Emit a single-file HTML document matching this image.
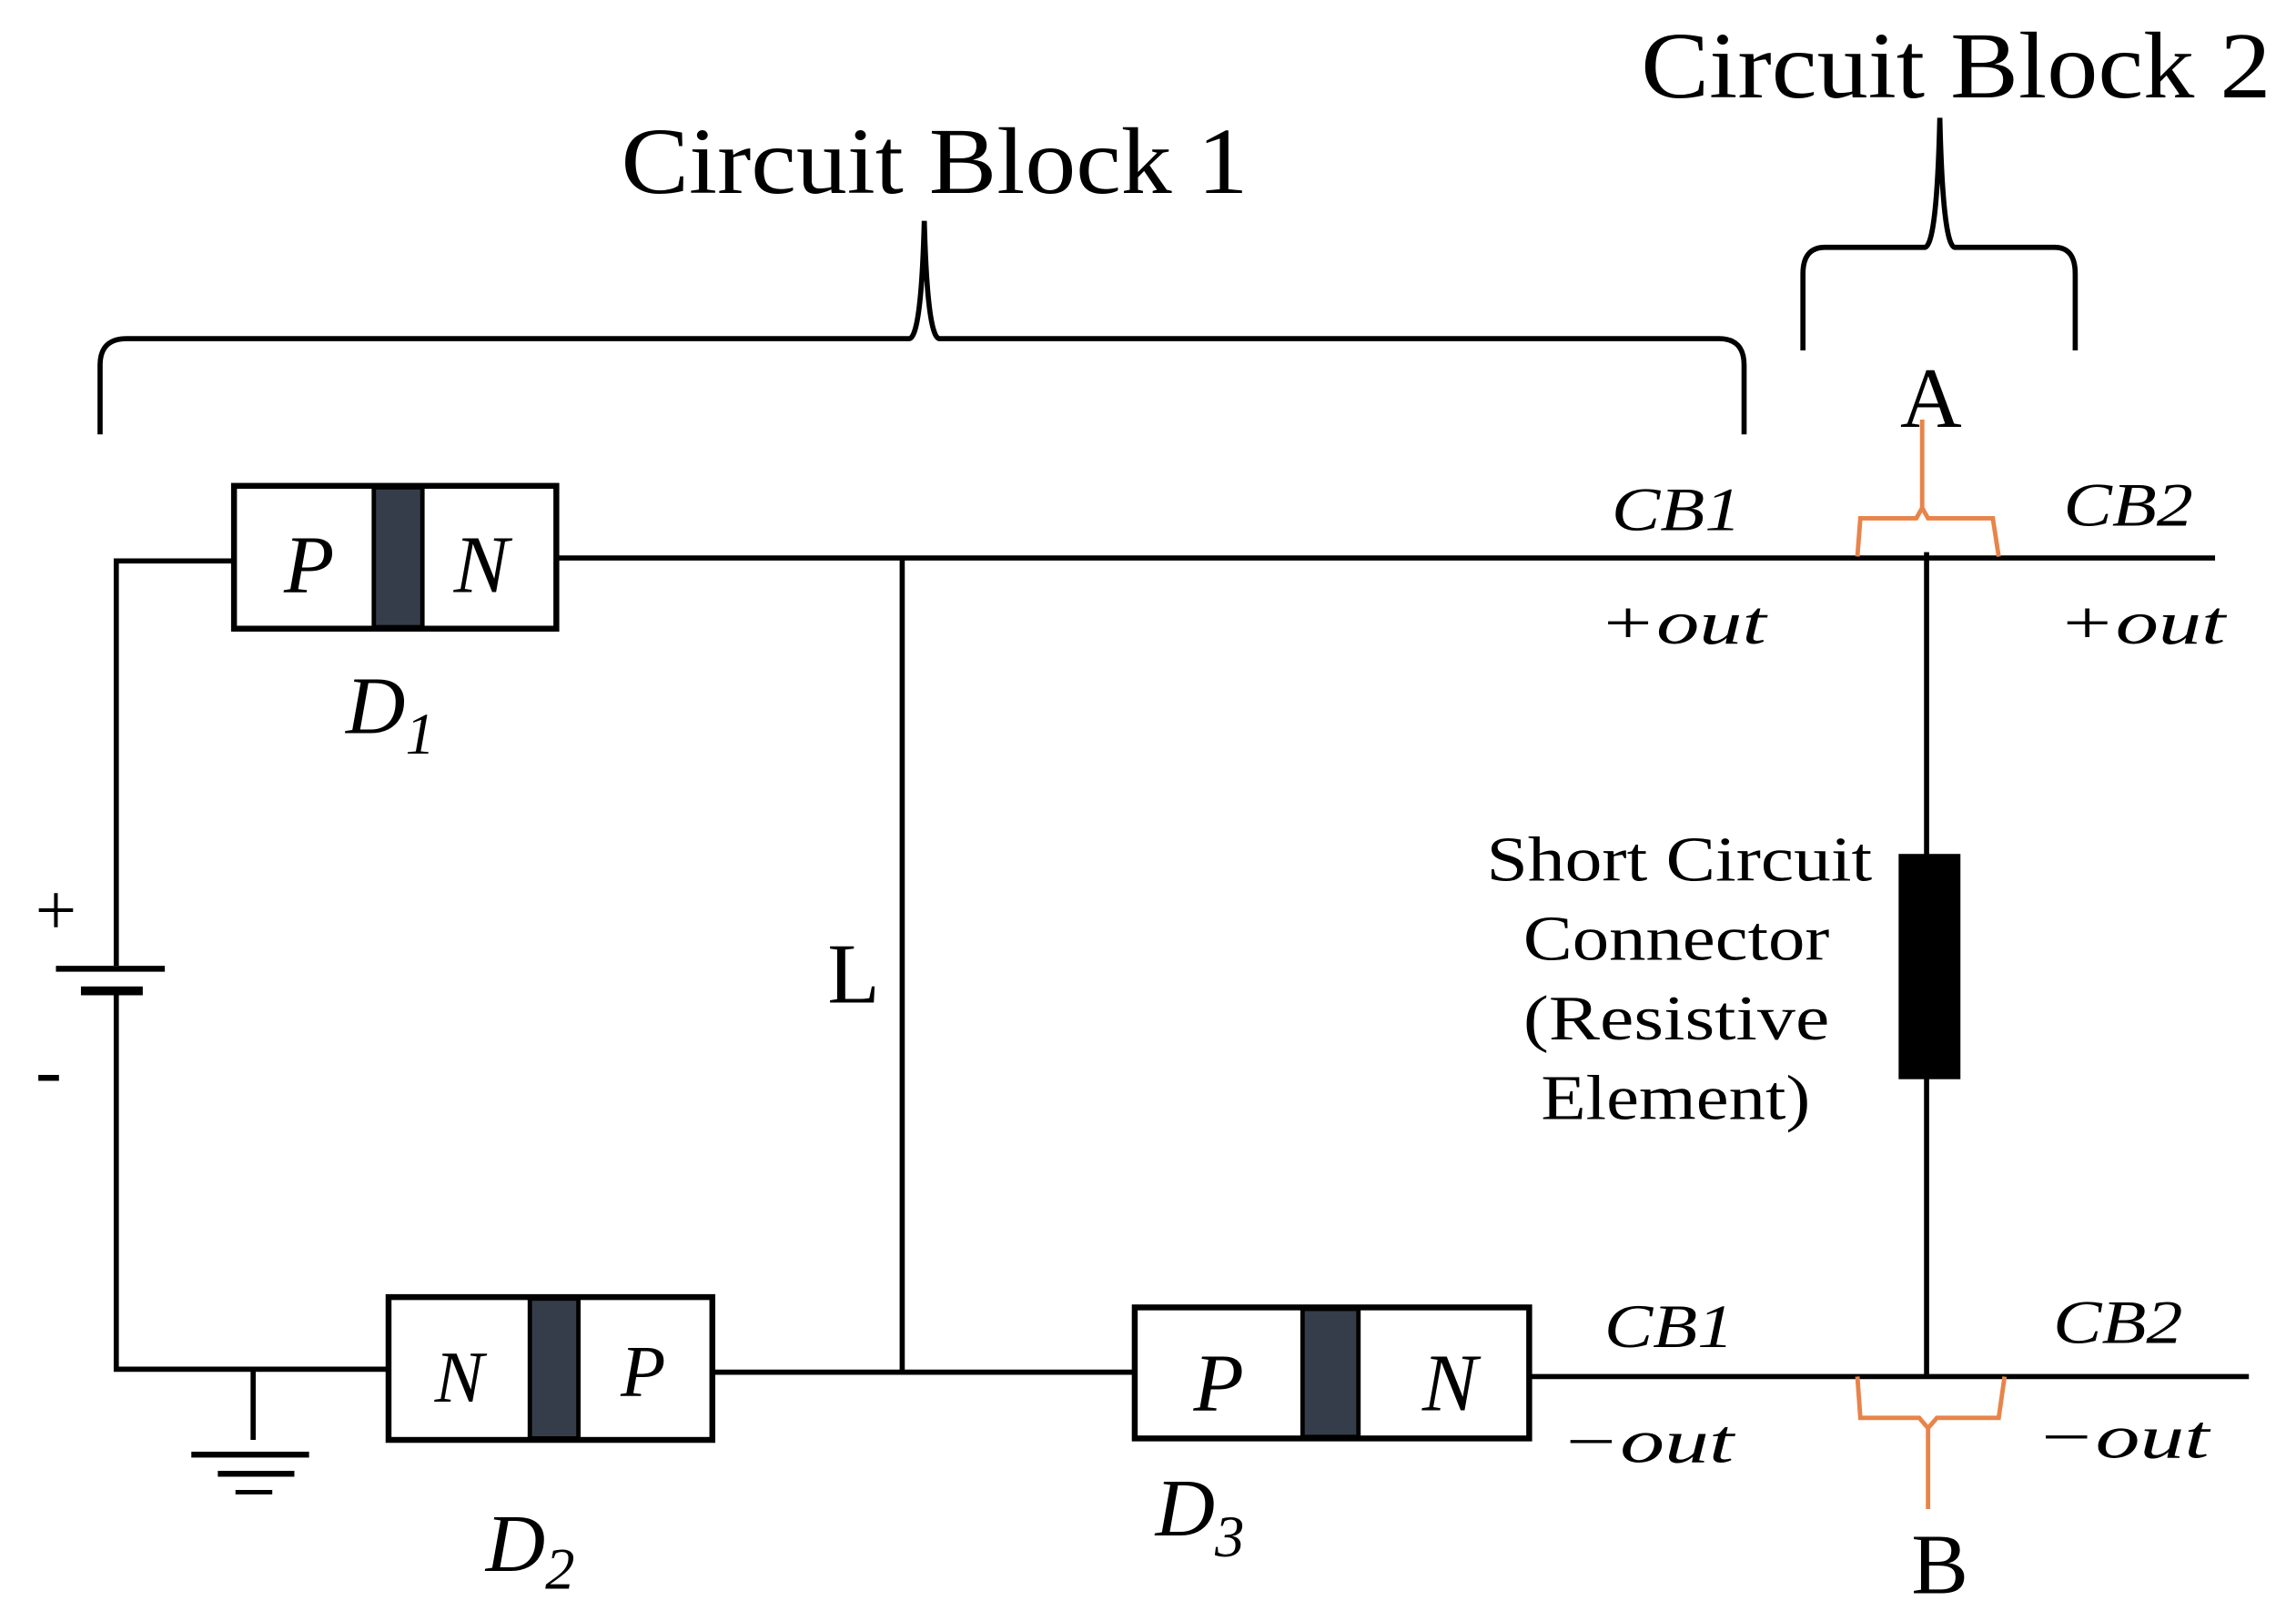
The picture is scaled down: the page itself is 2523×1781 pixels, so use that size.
<!DOCTYPE html>
<html><head><meta charset="utf-8"><style>html,body{margin:0;padding:0;background:#fff}svg{display:block}</style></head>
<body>
<svg width="2523" height="1781" viewBox="0 0 1560 1101" preserveAspectRatio="none" xmlns="http://www.w3.org/2000/svg" font-family="Liberation Serif, serif">
<g stroke="#000" stroke-width="3.5" fill="none">
<path d="M68 295 L68 248 Q68 230 86 230 L618 230 Q626 228 628 150 Q630 228 638 230 L1168 230 Q1185 230 1185 248 L1185 295"/>
<path d="M1225 238 L1225 186 Q1225 168 1240 168 L1308 168 Q1316 166 1318 80 Q1320 166 1328 168 L1396 168 Q1410 168 1410 186 L1410 238"/>
<path d="M158 381 L79 381 L79 656 M79 676 L79 930 L263 930"/>
<path d="M378 379 L1505 379"/>
<path d="M613 379 L613 932"/>
<path d="M484 932 L770 932"/>
<path d="M1040 935 L1528 935"/>
<path d="M1309 375 L1309 935"/>
<path d="M172 930 L172 978"/>
</g>
<rect x="38" y="656" width="74" height="4" fill="#000"/>
<rect x="55" y="670" width="42" height="6" fill="#000"/>
<rect x="130" y="986" width="80" height="4" fill="#000"/>
<rect x="148" y="999" width="52" height="4" fill="#000"/>
<rect x="160" y="1012" width="25" height="3" fill="#000"/>
<g stroke="#000" stroke-width="4" fill="#fff">
<rect x="159" y="330" width="219" height="97"/>
<rect x="264" y="881" width="220" height="97"/>
<rect x="771" y="888" width="268" height="89"/>
</g>
<g fill="#363d4a" stroke="#000" stroke-width="3">
<rect x="254" y="331" width="33" height="95"/>
<rect x="360" y="882" width="33" height="95"/>
<rect x="885" y="889" width="38" height="87"/>
</g>
<rect x="1290" y="580" width="42" height="153" fill="#000"/>
<g stroke="#e8844a" stroke-width="3" fill="none">
<path d="M1262 378 L1264 352 L1302 352 L1306 345 L1306 285 M1306 345 L1310 352 L1354 352 L1358 378"/>
<path d="M1262 935 L1264 963 L1304 963 L1310 970 L1310 1025 M1310 970 L1316 963 L1358 963 L1362 935"/>
</g>
<g fill="#000" font-style="italic" font-size="56">
<text x="210" y="402" text-anchor="middle">P</text>
<text x="327" y="402" text-anchor="middle">N</text>
<text x="312" y="952" text-anchor="middle" font-size="50">N</text>
<text x="437" y="948" text-anchor="middle" font-size="50">P</text>
<text x="828" y="958" text-anchor="middle">P</text>
<text x="985" y="958" text-anchor="middle">N</text>
<text x="235" y="498">D<tspan font-size="40" dy="14">1</tspan></text>
<text x="330" y="1067">D<tspan font-size="40" dy="12">2</tspan></text>
<text x="785" y="1043">D<tspan font-size="40" dy="14">3</tspan></text>
</g>
<g fill="#000" font-style="italic" font-size="42" lengthAdjust="spacingAndGlyphs">
<text x="1095" y="360" textLength="88" lengthAdjust="spacingAndGlyphs">CB1</text>
<text x="1086" y="437" textLength="114" lengthAdjust="spacingAndGlyphs">+out</text>
<text x="1402" y="357" textLength="88" lengthAdjust="spacingAndGlyphs">CB2</text>
<text x="1398" y="437" textLength="114" lengthAdjust="spacingAndGlyphs">+out</text>
<text x="1090" y="915" textLength="88" lengthAdjust="spacingAndGlyphs">CB1</text>
<text x="1060" y="993" textLength="118" lengthAdjust="spacingAndGlyphs">−out</text>
<text x="1395" y="912" textLength="88" lengthAdjust="spacingAndGlyphs">CB2</text>
<text x="1383" y="990" textLength="118" lengthAdjust="spacingAndGlyphs">−out</text>
</g>
<g fill="#000">
<text x="422" y="131" font-size="64" textLength="426" lengthAdjust="spacingAndGlyphs">Circuit Block 1</text>
<text x="1115" y="66" font-size="64" textLength="428" lengthAdjust="spacingAndGlyphs">Circuit Block 2</text>
<g text-anchor="middle">
<text x="1312" y="290" font-size="58">A</text>
<text x="1318" y="1082" font-size="58">B</text>
<text x="580" y="681" font-size="58">L</text>
<text x="38" y="635" font-size="50">+</text>
<text x="33" y="745" font-size="54">-</text>
</g>
<g font-size="43">
<text x="1010" y="598" textLength="262" lengthAdjust="spacingAndGlyphs">Short Circuit</text>
<text x="1035" y="652" textLength="208" lengthAdjust="spacingAndGlyphs">Connector</text>
<text x="1035" y="706" textLength="208" lengthAdjust="spacingAndGlyphs">(Resistive</text>
<text x="1047" y="760" textLength="183" lengthAdjust="spacingAndGlyphs">Element)</text>
</g>
</g>
</svg>
</body></html>
